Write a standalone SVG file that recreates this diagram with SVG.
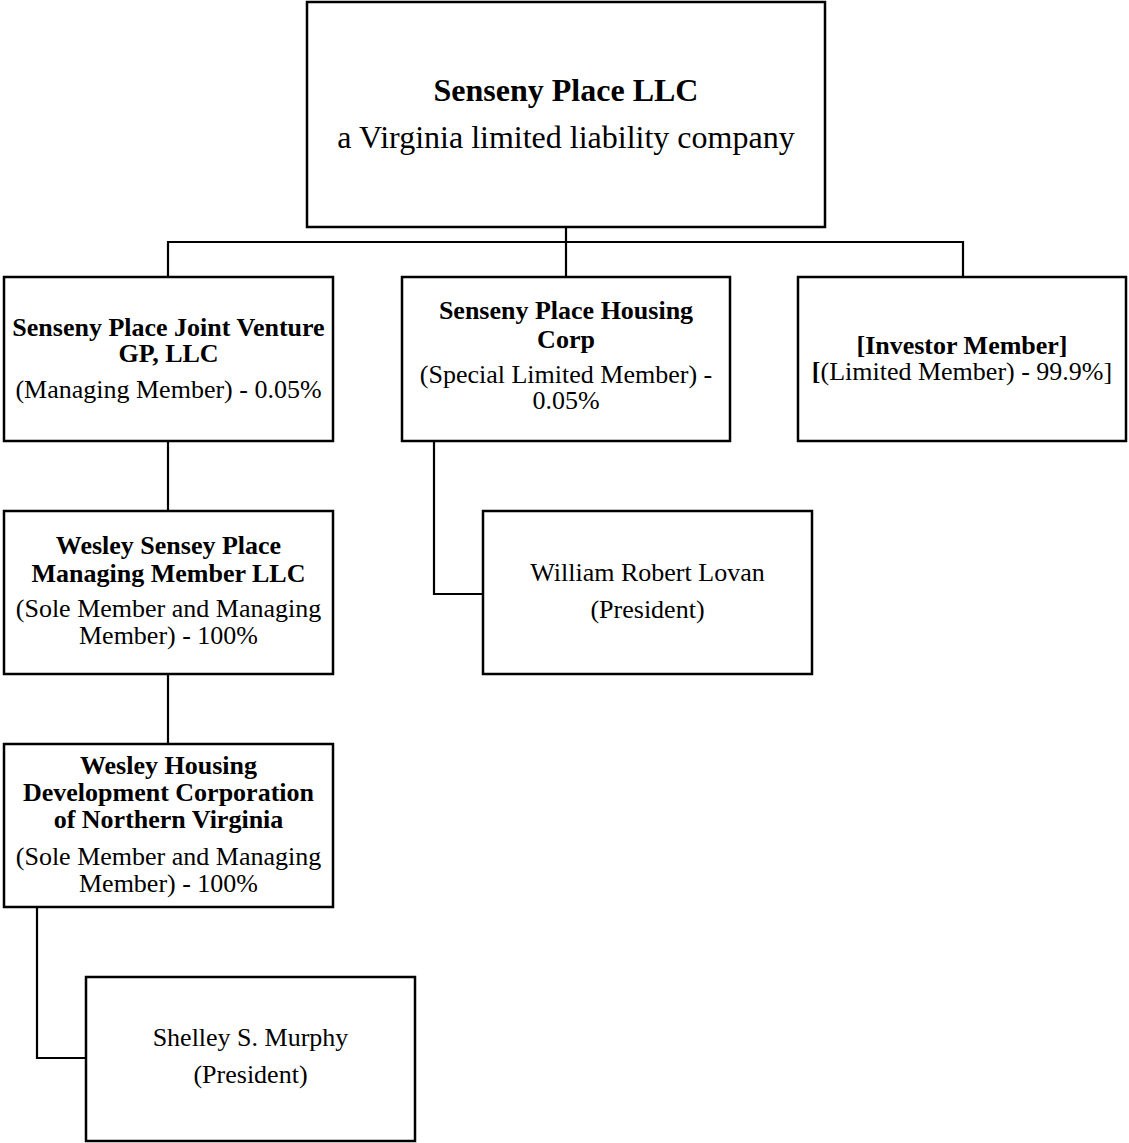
<svg xmlns="http://www.w3.org/2000/svg" width="1129" height="1143" viewBox="0 0 1129 1143">
<style>
.box{fill:#fff;stroke:#000;stroke-width:2.5}
.conn{fill:none;stroke:#000;stroke-width:2.2}
text{font-family:"Liberation Serif","Times New Roman",serif;fill:#000;text-anchor:middle;font-size:26px}
.b{font-weight:bold}
.big{font-size:32px}
</style>
<rect width="1129" height="1143" fill="#fff"/>
<g id="connectors">
<path class="conn" d="M566 228 V242 M168 276 V242 H963 V276 M566 242 V276"/>
<path class="conn" d="M168 441 V511 M168 674 V744"/>
<path class="conn" d="M434 441 V594 H483"/>
<path class="conn" d="M37 907 V1058 H86"/>
</g>
<g id="n-top">
<rect class="box" x="307" y="2" width="518" height="225"/>
<text class="b big" x="566" y="101">Senseny Place LLC</text>
<text class="big" x="566" y="148">a Virginia limited liability company</text>
</g>
<g id="n-jv">
<rect class="box" x="4" y="277" width="329" height="164"/>
<text class="b" x="168.5" y="336">Senseny Place Joint Venture</text>
<text class="b" x="168.5" y="362">GP, LLC</text>
<text x="168.5" y="398">(Managing Member) - 0.05%</text>
</g>
<g id="n-housing">
<rect class="box" x="402" y="277" width="328" height="164"/>
<text class="b" x="566" y="319">Senseny Place Housing</text>
<text class="b" x="566" y="348">Corp</text>
<text x="566" y="383">(Special Limited Member) -</text>
<text x="566" y="409">0.05%</text>
</g>
<g id="n-investor">
<rect class="box" x="798" y="277" width="328" height="164"/>
<text class="b" x="962" y="354">[Investor Member]</text>
<text x="962" y="380"><tspan class="b">[</tspan>(Limited Member) - 99.9%]</text>
</g>
<g id="n-wspmm">
<rect class="box" x="4" y="511" width="329" height="163"/>
<text class="b" x="168.5" y="554">Wesley Sensey Place</text>
<text class="b" x="168.5" y="582">Managing Member LLC</text>
<text x="168.5" y="617">(Sole Member and Managing</text>
<text x="168.5" y="644">Member) - 100%</text>
</g>
<g id="n-whdc">
<rect class="box" x="4" y="744" width="329" height="163"/>
<text class="b" x="168.5" y="774">Wesley Housing</text>
<text class="b" x="168.5" y="801">Development Corporation</text>
<text class="b" x="168.5" y="828">of Northern Virginia</text>
<text x="168.5" y="865">(Sole Member and Managing</text>
<text x="168.5" y="892">Member) - 100%</text>
</g>
<g id="n-lovan">
<rect class="box" x="483" y="511" width="329" height="163"/>
<text x="647.5" y="581">William Robert Lovan</text>
<text x="647.5" y="618">(President)</text>
</g>
<g id="n-murphy">
<rect class="box" x="86" y="977" width="329" height="164"/>
<text x="250.5" y="1046">Shelley S. Murphy</text>
<text x="250.5" y="1083">(President)</text>
</g>
</svg>
